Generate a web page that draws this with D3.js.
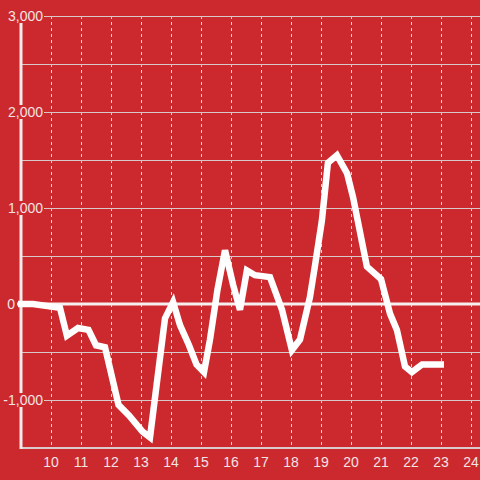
<!DOCTYPE html>
<html><head><meta charset="utf-8">
<script src="https://cdn.jsdelivr.net/npm/d3@7"></script>
<style>html,body{margin:0;padding:0;background:#cc292e;}svg{display:block;font-family:"Liberation Sans",Arial,sans-serif;}</style>
</head><body>
<svg id="c" width="480" height="480"></svg>
<script>
const xs = [8.9, 9.4, 10.3, 10.53, 10.9, 11.25, 11.5, 11.8, 12.25, 12.6, 13.05, 13.3, 13.8, 14.07, 14.3, 14.6, 14.85, 15.1, 15.3, 15.55, 15.8, 16.07, 16.3, 16.53, 16.8, 17.3, 17.7, 18.03, 18.3, 18.63, 18.8, 19.03, 19.23, 19.53, 19.87, 20.07, 20.53, 21.0, 21.3, 21.53, 21.8, 22.03, 22.37, 23.1];
const ys = [0, 0, -40, -330, -250, -270, -430, -450, -1050, -1160, -1330, -1390, -150, 20, -220, -430, -630, -710, -370, 150, 560, 200, -60, 350, 300, 280, -60, -480, -370, 70, 400, 870, 1470, 1550, 1360, 1110, 390, 260, -100, -270, -650, -710, -630, -630];
const xTicks = [10, 11, 12, 13, 14, 15, 16, 17, 18, 19, 20, 21, 22, 23, 24];
const yGrid = [-1500, -1000, -500, 500, 1000, 1500, 2000, 2500, 3000];
const yLabels = [3000, 2000, 1000, 0, -1000];

const svg = d3.select("#c");
const x = d3.scaleLinear().domain([9, 24.3]).range([21, 480]);
const y = d3.scaleLinear().domain([-1500, 3000]).range([448, 16]);
const fmt = d3.format(",");
const txt = "#f1e4e4";

// vertical dashed grid
svg.append("g").selectAll("line").data(xTicks).join("line")
  .attr("x1", d => x(d) + 0.5).attr("x2", d => x(d) + 0.5)
  .attr("y1", y(3000)).attr("y2", y(-1500))
  .attr("stroke", "#e6dada").attr("stroke-width", 1).attr("stroke-dasharray", "3,3");

// horizontal grid
svg.append("g").selectAll("line").data(yGrid).join("line")
  .attr("x1", 22).attr("x2", 480)
  .attr("y1", d => Math.round(y(d)) + 0.5).attr("y2", d => Math.round(y(d)) + 0.5)
  .attr("stroke", "#d6c8c8").attr("stroke-width", 1);

// x axis baseline
svg.append("line").attr("x1", 22).attr("x2", 480).attr("y1", y(-1500)).attr("y2", y(-1500))
  .attr("stroke", "#d9cccc").attr("stroke-width", 2);

// y axis line
svg.append("line").attr("x1", 21).attr("x2", 21).attr("y1", y(3000)).attr("y2", y(-1500) + 1)
  .attr("stroke", "#f1eaea").attr("stroke-width", 3);

// zero line
svg.append("line").attr("x1", 17).attr("x2", 480).attr("y1", y(0)).attr("y2", y(0))
  .attr("stroke", "#f5efef").attr("stroke-width", 3);

// y labels with background
const yl = svg.append("g").selectAll("g").data(yLabels).join("g")
  .attr("transform", d => `translate(0,${y(d)})`);
yl.append("rect").attr("x", 0).attr("y", -7)
  .attr("width", d => d === 0 ? 16 : 44).attr("height", 14).attr("fill", "#cc292e");
yl.append("text").attr("x", d => d === 0 ? 15 : 43).attr("y", 5)
  .attr("text-anchor", "end").attr("font-size", 14).attr("fill", txt)
  .text(d => fmt(d).replace("−", "-"));

// x labels
svg.append("g").selectAll("text").data(xTicks).join("text")
  .attr("x", d => x(d)).attr("y", 467).attr("text-anchor", "middle")
  .attr("font-size", 14).attr("fill", txt).text(d => d);

// data line
const pts = xs.map((v, i) => [v, ys[i]]);
svg.append("path").datum(pts)
  .attr("d", d3.line().x(d => x(d[0])).y(d => y(d[1])))
  .attr("fill", "none").attr("stroke", "#ffffff").attr("stroke-width", 6.5)
  .attr("stroke-linejoin", "miter");
</script>
</body></html>
